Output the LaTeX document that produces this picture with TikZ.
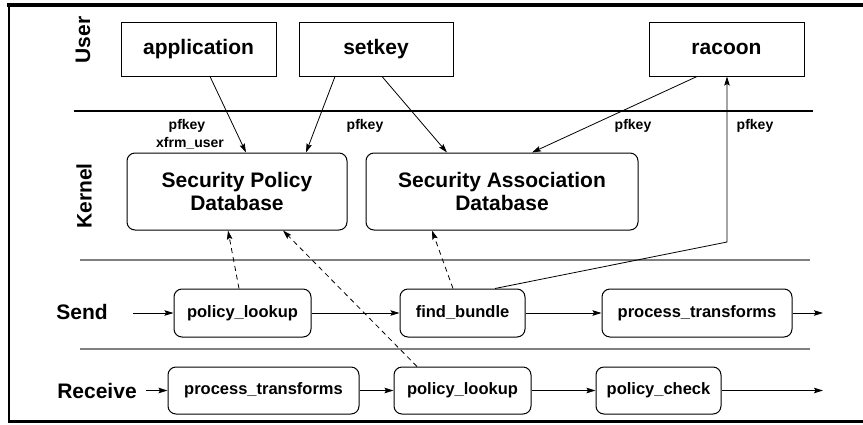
\documentclass[tikz,border=0pt]{standalone}
\usepackage{fontspec}
\setmainfont{Liberation Sans}
\usetikzlibrary{arrows.meta,calc}
\tikzset{
  big/.style={font=\bfseries\fontsize{21}{23}\selectfont},
  mid/.style={font=\bfseries\fontsize{16.5}{18}\selectfont},
  small/.style={font=\bfseries\fontsize{14}{15}\selectfont},
  userbox/.style={draw, line width=1pt, big, inner sep=0pt},
  dbbox/.style={draw, line width=1pt, rounded corners=8pt, big, align=center, inner sep=0pt},
  fnbox/.style={draw, line width=1pt, rounded corners=8pt, mid, inner sep=0pt},
  arr/.style={line width=0.8pt, -{Stealth[length=9pt,width=5.5pt,inset=1.5pt]}},
  darr/.style={arr, dashed, dash pattern=on 5pt off 4pt},
}
\begin{document}
\begin{tikzpicture}[x=1pt,y=-1pt]
\useasboundingbox (0,0) rectangle (863,424);
% frame
\draw[line width=4pt] (7,4.5) -- (863,4.5);
\draw[line width=2pt] (9,3) -- (9,422);
\draw[line width=2.5pt] (8,421.5) -- (863,421.5);
% separators
\draw[line width=2.5pt] (74,111) -- (813,111);
\draw[line width=1.5pt, gray] (80,260) -- (810,260);
\draw[line width=1.5pt, gray] (80,349) -- (810,349);
% side labels
\node[big, rotate=90] (user) at (83,40) {User};
\node[big, rotate=90] (kernel) at (84,196) {Kernel};
\node[big] (send) at (82,312) {Send};
\node[big] (receive) at (97,391) {Receive};
% user boxes
\node[userbox, minimum width=155pt, minimum height=54pt] (app) at (198.5,49) {application};
\node[userbox, minimum width=154pt, minimum height=54pt] (setkey) at (376,49) {setkey};
\node[userbox, minimum width=155pt, minimum height=54pt] (racoon) at (726.5,49) {racoon};
% databases
\node[dbbox, minimum width=220pt, minimum height=77pt] (spd) at (237,191.5) {Security Policy\\Database};
\node[dbbox, minimum width=272pt, minimum height=77pt] (sad) at (502,191.5) {Security Association\\Database};
% send path
\node[fnbox, minimum width=137pt, minimum height=48pt] (pl1) at (242.5,313) {policy\_lookup};
\node[fnbox, minimum width=125pt, minimum height=48pt] (fb) at (462.5,313) {find\_bundle};
\node[fnbox, minimum width=190pt, minimum height=48pt] (pt1) at (697,313) {process\_transforms};
% receive path
\node[fnbox, minimum width=191pt, minimum height=47pt] (pt2) at (263.5,390.5) {process\_transforms};
\node[fnbox, minimum width=137pt, minimum height=47pt] (pl2) at (462.5,390.5) {policy\_lookup};
\node[fnbox, minimum width=125pt, minimum height=47pt] (pc) at (658.5,390.5) {policy\_check};
% labels
\node[small] (l1) at (187,126) {pfkey};
\node[small] (l2) at (190,143) {xfrm\_user};
\node[small] (l3) at (365,126) {pfkey};
\node[small] (l4) at (633,126) {pfkey};
\node[small] (l5) at (755,126) {pfkey};
% coordinates
\coordinate (sendin) at (133,313);
\coordinate (sendout) at (823,313);
\coordinate (recvin) at (146,390.5);
\coordinate (recvout) at (823,390.5);
\coordinate (bend) at (727,242);
% user -> kernel
\draw[arr] ([xshift=11.5pt]app.south) -- ([xshift=9pt]spd.north);
\draw[arr] ([xshift=-41pt]setkey.south) -- ([xshift=69pt]spd.north);
\draw[arr] ([xshift=6pt]setkey.south) -- ([xshift=-55pt]sad.north);
\draw[arr] ([xshift=-29.5pt]racoon.south) -- ([xshift=30pt]sad.north);
\draw[arr] ([xshift=32.5pt]fb.north) -- (bend) -- ([xshift=0.5pt]racoon.south);
% lookups
\draw[darr] ([xshift=-3.5pt]pl1.north) -- ([xshift=-9pt]spd.south);
\draw[darr] ([xshift=-45.5pt]pl2.north) -- ([xshift=46pt]spd.south);
\draw[darr] ([xshift=-9.5pt]fb.north) -- ([xshift=-70pt]sad.south);
% flows
\draw[arr] (sendin) -- (pl1.west);
\draw[arr] (pl1) -- (fb);
\draw[arr] (fb) -- (pt1);
\draw[arr] (pt1.east) -- (sendout);
\draw[arr] (recvin) -- (pt2.west);
\draw[arr] (pt2) -- (pl2);
\draw[arr] (pl2) -- (pc);
\draw[arr] (pc.east) -- (recvout);
\end{tikzpicture}
\end{document}
